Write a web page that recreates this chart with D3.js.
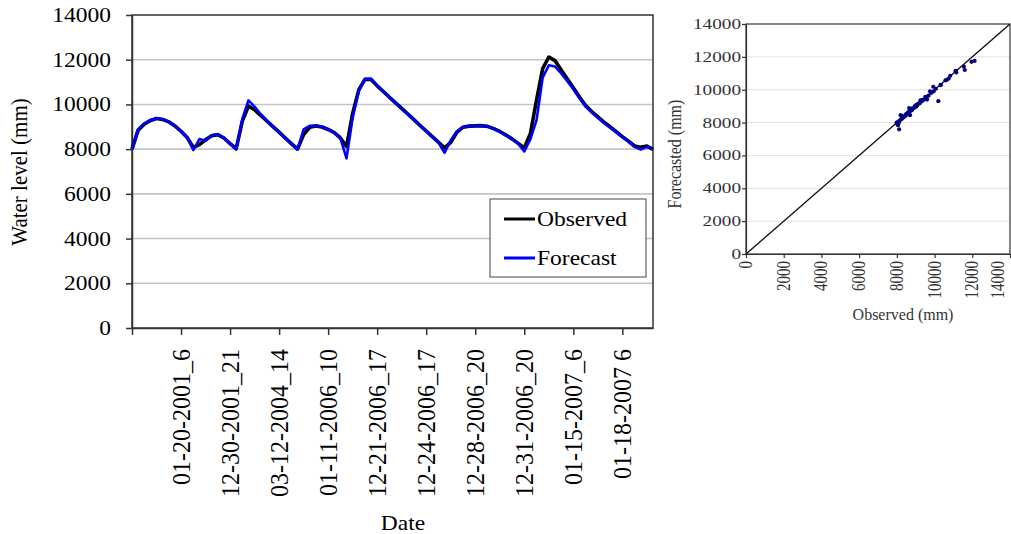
<!DOCTYPE html>
<html><head><meta charset="utf-8">
<script src="https://cdn.jsdelivr.net/npm/d3@7"></script>
<style>html,body{margin:0;padding:0;background:#fff;}svg{display:block;}</style>
</head><body>
<script>
// ---------- DATA ----------
const tickLabels = ["01-20-2001_6","12-30-2001_21","03-12-2004_14","01-11-2006_10","12-21-2006_17",
  "12-24-2006_17","12-28-2006_20","12-31-2006_20","01-15-2007_6","01-18-2007 6"];
const tickEvery = 8;
const observed = [8000,8850,9120,9280,9370,9330,9220,9040,8800,8520,
  8080,8200,8420,8600,8650,8500,8250,8020,9250,9930,
  9760,9510,9260,9010,8760,8500,8250,8000,8650,8980,
  9040,8990,8880,8740,8500,8120,9600,10650,11120,11120,
  10830,10580,10320,10070,9820,9570,9320,9060,8810,8560,
  8310,8060,8300,8750,8980,9030,9040,9050,9020,8920,
  8790,8630,8460,8260,8050,8700,10200,11600,12120,11960,
  11550,11150,10750,10330,9950,9680,9440,9210,9000,8780,
  8560,8360,8140,8080,8140,7990];
const forecast = [8000,8880,9140,9300,9380,9340,9210,9030,8790,8510,
  7960,8450,8380,8620,8660,8510,8240,7980,9350,10180,
  9900,9560,9280,9000,8740,8480,8230,7980,8880,9040,
  9050,9000,8870,8730,8480,7590,9400,10600,11130,11150,
  10850,10570,10300,10060,9800,9550,9300,9040,8790,8540,
  8290,7840,8400,8800,8990,9030,9040,9040,9010,8910,
  8770,8610,8440,8240,7900,8450,9300,11200,11750,11700,
  11400,11050,10680,10280,9900,9640,9400,9170,8960,8750,
  8530,8330,8100,7980,8100,8000];
const yTicks = [0,2000,4000,6000,8000,10000,12000,14000];
const seriesNames = ["Observed","Forecast"];
const seriesColors = ["#000000","#0000ff"];

// ---------- DRAW ----------
const W = 1011, H = 534;
const svg = d3.select("body").append("svg").attr("width", W).attr("height", H);
svg.append("rect").attr("width", W).attr("height", H).attr("fill", "#fff");
const FONT = "'Liberation Serif','Times New Roman',serif";

function txt(g, x, y, s, o) {
  const sx = o.sx || 1, rot = o.rot ? ` rotate(${o.rot})` : "";
  return g.append("text")
    .attr("transform", `translate(${x},${y}) scale(${sx},1)${rot}`)
    .attr("text-anchor", o.anchor || "middle")
    .attr("font-family", FONT).attr("font-size", o.size)
    .attr("fill", o.fill || "#000").text(s);
}

// ===== Left chart =====
const L = svg.append("g");
const n = observed.length;
const xL = d3.scaleLinear().domain([0, n - 1]).range([132, 653]);
const yL = d3.scaleLinear().domain([0, 14000]).range([328, 15]);

L.append("g").selectAll("line").data(yTicks.filter(v => v > 0 && v < 14000)).join("line")
  .attr("x1", xL(0)).attr("x2", xL(n - 1)).attr("y1", d => yL(d)).attr("y2", d => yL(d))
  .attr("stroke", "#c4c4c4").attr("stroke-width", 1.6);

L.append("rect").attr("x", xL(0)).attr("y", yL(14000)).attr("width", xL(n - 1) - xL(0))
  .attr("height", yL(0) - yL(14000)).attr("fill", "none").attr("stroke", "#333").attr("stroke-width", 1.5);

const tickIdx = d3.range(0, n, tickEvery);
const ax = L.append("g").attr("transform", `translate(0,${yL(0)})`)
  .call(d3.axisBottom(xL).tickValues(tickIdx).tickSize(7).tickSizeOuter(0).tickFormat(""));
const ay = L.append("g").attr("transform", `translate(${xL(0)},0)`)
  .call(d3.axisLeft(yL).tickValues(yTicks).tickSize(6).tickSizeOuter(0).tickFormat(""));
[ax, ay].forEach(a => { a.selectAll("path,line").attr("stroke", "#333").attr("stroke-width", 1.5); });

yTicks.forEach(v => txt(L, 111, yL(v) + 7, String(v), { size: 21, sx: 1.12, anchor: "end" }));
tickLabels.forEach((s, k) => txt(L, xL((k + 1) * tickEvery) + 9, 349, s, { size: 24, sx: 1.08, rot: -90, anchor: "end" }));
txt(L, 27, 172, "Water level (mm)", { size: 21, sx: 1.12, rot: -90 });
txt(L, 403, 530, "Date", { size: 21, sx: 1.12 });

const line = d3.line().x((d, i) => xL(i)).y(d => yL(d));
L.append("path").datum(observed).attr("d", line).attr("fill", "none")
  .attr("stroke", seriesColors[0]).attr("stroke-width", 3.6).attr("stroke-linejoin", "round");
L.append("path").datum(forecast).attr("d", line).attr("fill", "none")
  .attr("stroke", seriesColors[1]).attr("stroke-width", 2.6).attr("stroke-linejoin", "round");

const lg = L.append("g");
lg.append("rect").attr("x", 490).attr("y", 199).attr("width", 156).attr("height", 78)
  .attr("fill", "#fff").attr("stroke", "#444").attr("stroke-width", 1);
seriesNames.forEach((s, i) => {
  const y = 219 + i * 39;
  lg.append("line").attr("x1", 504).attr("x2", 535).attr("y1", y).attr("y2", y)
    .attr("stroke", seriesColors[i]).attr("stroke-width", 3);
  txt(lg, 537, y + 7, s, { size: 21, sx: 1.12, anchor: "start" });
});

// ===== Right chart =====
const R = svg.append("g");
const xR = d3.scaleLinear().domain([0, 14000]).range([746, 1010]);
const yR = d3.scaleLinear().domain([0, 14000]).range([254, 24]);
R.append("g").selectAll("line").data(yTicks.filter(v => v > 0 && v < 14000)).join("line")
  .attr("x1", xR(0)).attr("x2", xR(14000)).attr("y1", d => yR(d)).attr("y2", d => yR(d))
  .attr("stroke", "#e2e2e2").attr("stroke-width", 1);
R.append("rect").attr("x", xR(0)).attr("y", yR(14000)).attr("width", xR(14000) - xR(0))
  .attr("height", yR(0) - yR(14000)).attr("fill", "none").attr("stroke", "#333").attr("stroke-width", 1.2);
const rx = R.append("g").attr("transform", `translate(0,${yR(0)})`)
  .call(d3.axisBottom(xR).tickValues(yTicks).tickSize(4).tickSizeOuter(0).tickFormat(""));
const ry = R.append("g").attr("transform", `translate(${xR(0)},0)`)
  .call(d3.axisLeft(yR).tickValues(yTicks).tickSize(4).tickSizeOuter(0).tickFormat(""));
[rx, ry].forEach(a => { a.selectAll("path,line").attr("stroke", "#333").attr("stroke-width", 1.2); });

R.append("line").attr("x1", xR(0)).attr("y1", yR(0)).attr("x2", xR(14000)).attr("y2", yR(14000))
  .attr("stroke", "#111").attr("stroke-width", 1.4);

R.append("g").selectAll("circle").data(d3.range(n)).join("circle")
  .attr("cx", i => xR(observed[i])).attr("cy", i => yR(forecast[i])).attr("r", 2.1)
  .attr("fill", "#000080");

yTicks.forEach(v => txt(R, 741, yR(v) + 5, String(v), { size: 15, sx: 1.28, anchor: "end", fill: "#333" }));
yTicks.forEach(v => txt(R, Math.min(xR(v) + 6, 1004), 261, String(v), { size: 15, sx: 1.2, rot: -90, anchor: "end", fill: "#333" }));
txt(R, 681, 154, "Forecasted (mm)", { size: 16, sx: 1.2, rot: -90, fill: "#333" });
txt(R, 903, 320, "Observed (mm)", { size: 16, sx: 1.0, fill: "#333" });
</script>
</body></html>
